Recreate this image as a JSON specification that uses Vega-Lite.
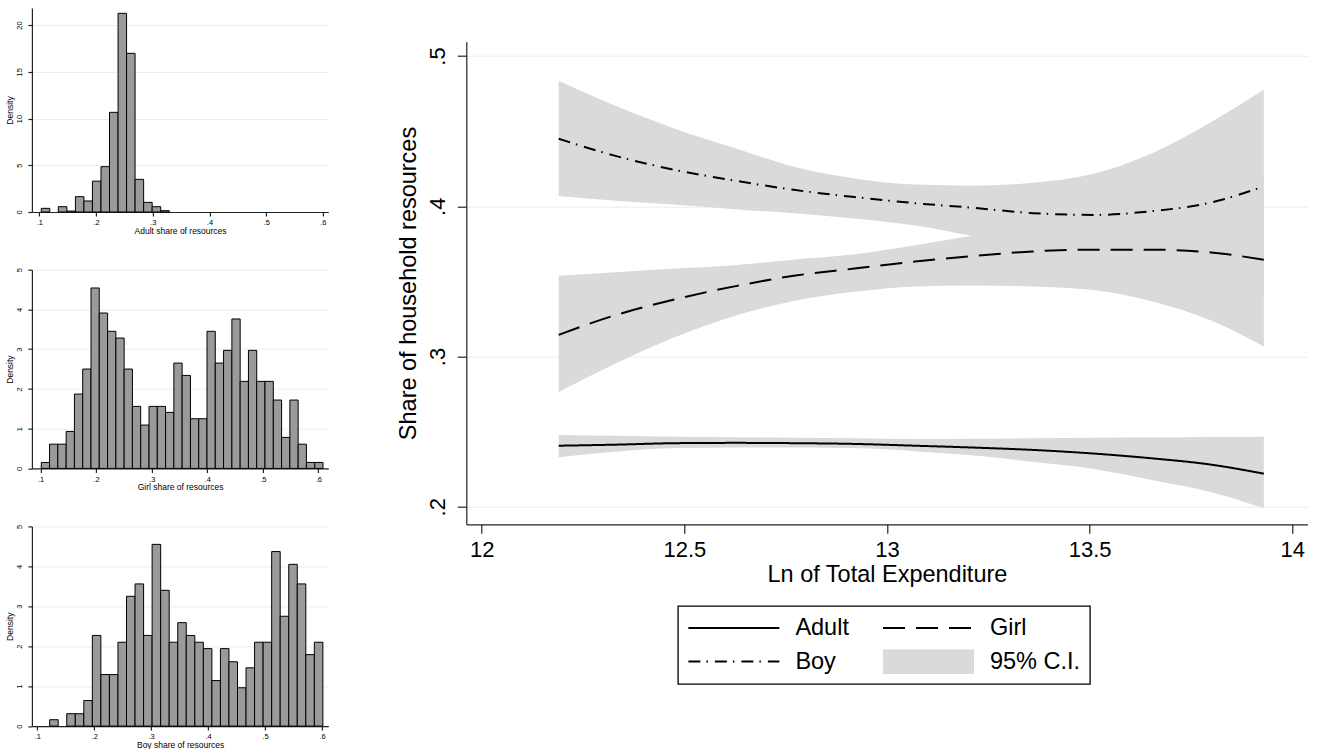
{
  "$schema": "https://vega.github.io/schema/vega-lite/v6.json",
  "padding": {"left": 5.9, "top": 8, "right": 0, "bottom": 0},
  "background": "white",
  "bounds": "flush",
  "spacing": 434.4,
  "config": {
    "font": "Liberation Sans",
    "view": {"stroke": null},
    "axis": {
      "labelColor": "#000",
      "titleColor": "#000",
      "domainColor": "#222",
      "tickColor": "#222",
      "gridColor": "#ececec",
      "gridWidth": 1,
      "labelFlush": false,
      "labelOverlap": false,
      "titleFontWeight": "normal",
      "labelFont": "Liberation Sans",
      "titleFont": "Liberation Sans",
      "domainWidth": 1.2,
      "tickWidth": 1.2
    }
  },
  "datasets": {
    "adult_hist": [
      {"lo": 0.1035, "hi": 0.1185, "density": 0.39},
      {"lo": 0.1336, "hi": 0.1486, "density": 0.57},
      {"lo": 0.1486, "hi": 0.1637, "density": 0.10},
      {"lo": 0.1637, "hi": 0.1787, "density": 1.64},
      {"lo": 0.1787, "hi": 0.1937, "density": 1.18},
      {"lo": 0.1937, "hi": 0.2088, "density": 3.30},
      {"lo": 0.2088, "hi": 0.2238, "density": 4.85},
      {"lo": 0.2238, "hi": 0.2389, "density": 10.66},
      {"lo": 0.2389, "hi": 0.2539, "density": 21.25},
      {"lo": 0.2539, "hi": 0.2689, "density": 16.97},
      {"lo": 0.2689, "hi": 0.2840, "density": 3.49},
      {"lo": 0.2840, "hi": 0.2990, "density": 1.03},
      {"lo": 0.2990, "hi": 0.3141, "density": 0.57},
      {"lo": 0.3141, "hi": 0.3291, "density": 0.14}
    ],
    "girl_hist": [
      {"lo": 0.1012, "hi": 0.1161, "density": 0.15},
      {"lo": 0.1161, "hi": 0.1310, "density": 0.61},
      {"lo": 0.1310, "hi": 0.1460, "density": 0.61},
      {"lo": 0.1460, "hi": 0.1609, "density": 0.93},
      {"lo": 0.1609, "hi": 0.1758, "density": 1.87},
      {"lo": 0.1758, "hi": 0.1907, "density": 2.50},
      {"lo": 0.1907, "hi": 0.2056, "density": 4.54},
      {"lo": 0.2056, "hi": 0.2206, "density": 3.91},
      {"lo": 0.2206, "hi": 0.2355, "density": 3.45},
      {"lo": 0.2355, "hi": 0.2504, "density": 3.28},
      {"lo": 0.2504, "hi": 0.2653, "density": 2.50},
      {"lo": 0.2653, "hi": 0.2802, "density": 1.56},
      {"lo": 0.2802, "hi": 0.2952, "density": 1.09},
      {"lo": 0.2952, "hi": 0.3101, "density": 1.56},
      {"lo": 0.3101, "hi": 0.3250, "density": 1.56},
      {"lo": 0.3250, "hi": 0.3399, "density": 1.41},
      {"lo": 0.3399, "hi": 0.3548, "density": 2.65},
      {"lo": 0.3548, "hi": 0.3698, "density": 2.34},
      {"lo": 0.3698, "hi": 0.3847, "density": 1.25},
      {"lo": 0.3847, "hi": 0.3996, "density": 1.25},
      {"lo": 0.3996, "hi": 0.4145, "density": 3.45},
      {"lo": 0.4145, "hi": 0.4294, "density": 2.65},
      {"lo": 0.4294, "hi": 0.4444, "density": 2.97},
      {"lo": 0.4444, "hi": 0.4593, "density": 3.76},
      {"lo": 0.4593, "hi": 0.4742, "density": 2.19},
      {"lo": 0.4742, "hi": 0.4891, "density": 2.97},
      {"lo": 0.4891, "hi": 0.5040, "density": 2.19},
      {"lo": 0.5040, "hi": 0.5190, "density": 2.19},
      {"lo": 0.5190, "hi": 0.5339, "density": 1.72},
      {"lo": 0.5339, "hi": 0.5488, "density": 0.78},
      {"lo": 0.5488, "hi": 0.5637, "density": 1.72},
      {"lo": 0.5637, "hi": 0.5786, "density": 0.61},
      {"lo": 0.5786, "hi": 0.5936, "density": 0.15},
      {"lo": 0.5936, "hi": 0.6085, "density": 0.15}
    ],
    "boy_hist": [
      {"lo": 0.1217, "hi": 0.1367, "density": 0.16},
      {"lo": 0.1517, "hi": 0.1667, "density": 0.31},
      {"lo": 0.1667, "hi": 0.1817, "density": 0.31},
      {"lo": 0.1817, "hi": 0.1967, "density": 0.64},
      {"lo": 0.1967, "hi": 0.2117, "density": 2.27},
      {"lo": 0.2117, "hi": 0.2267, "density": 1.29},
      {"lo": 0.2267, "hi": 0.2417, "density": 1.29},
      {"lo": 0.2417, "hi": 0.2567, "density": 2.10},
      {"lo": 0.2567, "hi": 0.2717, "density": 3.25},
      {"lo": 0.2717, "hi": 0.2867, "density": 3.56},
      {"lo": 0.2867, "hi": 0.3017, "density": 2.27},
      {"lo": 0.3017, "hi": 0.3167, "density": 4.55},
      {"lo": 0.3167, "hi": 0.3317, "density": 3.40},
      {"lo": 0.3317, "hi": 0.3467, "density": 2.10},
      {"lo": 0.3467, "hi": 0.3617, "density": 2.59},
      {"lo": 0.3617, "hi": 0.3767, "density": 2.27},
      {"lo": 0.3767, "hi": 0.3917, "density": 2.10},
      {"lo": 0.3917, "hi": 0.4067, "density": 1.94},
      {"lo": 0.4067, "hi": 0.4217, "density": 1.14},
      {"lo": 0.4217, "hi": 0.4367, "density": 1.94},
      {"lo": 0.4367, "hi": 0.4517, "density": 1.61},
      {"lo": 0.4517, "hi": 0.4667, "density": 0.96},
      {"lo": 0.4667, "hi": 0.4817, "density": 1.46},
      {"lo": 0.4817, "hi": 0.4967, "density": 2.10},
      {"lo": 0.4967, "hi": 0.5117, "density": 2.10},
      {"lo": 0.5117, "hi": 0.5267, "density": 4.37},
      {"lo": 0.5267, "hi": 0.5417, "density": 2.75},
      {"lo": 0.5417, "hi": 0.5567, "density": 4.05},
      {"lo": 0.5567, "hi": 0.5717, "density": 3.56},
      {"lo": 0.5717, "hi": 0.5867, "density": 1.79},
      {"lo": 0.5867, "hi": 0.6017, "density": 2.10}
    ],
    "curves": [
      {"series": "Adult", "x": 12.19, "fit": 0.2406, "lo": 0.2330, "hi": 0.2478},
      {"series": "Adult", "x": 12.33, "fit": 0.2413, "lo": 0.2366, "hi": 0.2472},
      {"series": "Adult", "x": 12.48, "fit": 0.2423, "lo": 0.2390, "hi": 0.2466},
      {"series": "Adult", "x": 12.63, "fit": 0.2425, "lo": 0.2394, "hi": 0.2462},
      {"series": "Adult", "x": 12.77, "fit": 0.2423, "lo": 0.2394, "hi": 0.2459},
      {"series": "Adult", "x": 12.92, "fit": 0.2418, "lo": 0.2390, "hi": 0.2455},
      {"series": "Adult", "x": 13.07, "fit": 0.2406, "lo": 0.2370, "hi": 0.2450},
      {"series": "Adult", "x": 13.21, "fit": 0.2394, "lo": 0.2342, "hi": 0.2452},
      {"series": "Adult", "x": 13.36, "fit": 0.2378, "lo": 0.2299, "hi": 0.2455},
      {"series": "Adult", "x": 13.51, "fit": 0.2354, "lo": 0.2251, "hi": 0.2459},
      {"series": "Adult", "x": 13.65, "fit": 0.2323, "lo": 0.2180, "hi": 0.2462},
      {"series": "Adult", "x": 13.80, "fit": 0.2280, "lo": 0.2097, "hi": 0.2464},
      {"series": "Adult", "x": 13.93, "fit": 0.2220, "lo": 0.1990, "hi": 0.2466},
      {"series": "Girl", "x": 12.19, "fit": 0.3144, "lo": 0.2763, "hi": 0.3537},
      {"series": "Girl", "x": 12.33, "fit": 0.3275, "lo": 0.2954, "hi": 0.3561},
      {"series": "Girl", "x": 12.48, "fit": 0.3382, "lo": 0.3132, "hi": 0.3585},
      {"series": "Girl", "x": 12.63, "fit": 0.3470, "lo": 0.3275, "hi": 0.3609},
      {"series": "Girl", "x": 12.77, "fit": 0.3537, "lo": 0.3370, "hi": 0.3644},
      {"series": "Girl", "x": 12.92, "fit": 0.3585, "lo": 0.3430, "hi": 0.3680},
      {"series": "Girl", "x": 13.07, "fit": 0.3632, "lo": 0.3466, "hi": 0.3740},
      {"series": "Girl", "x": 13.21, "fit": 0.3668, "lo": 0.3473, "hi": 0.3804},
      {"series": "Girl", "x": 13.36, "fit": 0.3699, "lo": 0.3466, "hi": 0.3870},
      {"series": "Girl", "x": 13.51, "fit": 0.3711, "lo": 0.3442, "hi": 0.3930},
      {"series": "Girl", "x": 13.65, "fit": 0.3711, "lo": 0.3370, "hi": 0.4000},
      {"series": "Girl", "x": 13.80, "fit": 0.3692, "lo": 0.3240, "hi": 0.4100},
      {"series": "Girl", "x": 13.93, "fit": 0.3644, "lo": 0.3066, "hi": 0.4200},
      {"series": "Boy", "x": 12.19, "fit": 0.4449, "lo": 0.4068, "hi": 0.4835},
      {"series": "Boy", "x": 12.33, "fit": 0.4335, "lo": 0.4037, "hi": 0.4668},
      {"series": "Boy", "x": 12.48, "fit": 0.4240, "lo": 0.4009, "hi": 0.4513},
      {"series": "Boy", "x": 12.63, "fit": 0.4168, "lo": 0.3978, "hi": 0.4382},
      {"series": "Boy", "x": 12.77, "fit": 0.4109, "lo": 0.3954, "hi": 0.4263},
      {"series": "Boy", "x": 12.92, "fit": 0.4061, "lo": 0.3918, "hi": 0.4185},
      {"series": "Boy", "x": 13.07, "fit": 0.4020, "lo": 0.3871, "hi": 0.4144},
      {"series": "Boy", "x": 13.21, "fit": 0.3990, "lo": 0.3804, "hi": 0.4137},
      {"series": "Boy", "x": 13.36, "fit": 0.3954, "lo": 0.3750, "hi": 0.4156},
      {"series": "Boy", "x": 13.51, "fit": 0.3942, "lo": 0.3680, "hi": 0.4216},
      {"series": "Boy", "x": 13.65, "fit": 0.3966, "lo": 0.3600, "hi": 0.4347},
      {"series": "Boy", "x": 13.80, "fit": 0.4025, "lo": 0.3500, "hi": 0.4560},
      {"series": "Boy", "x": 13.93, "fit": 0.4132, "lo": 0.3400, "hi": 0.4775}
    ]
  },
  "hconcat": [
    {
      "vconcat": [
        {
          "width": 296.4, "height": 204,
          "data": {"name": "adult_hist"},
          "mark": {"type": "rect", "fill": "#9a9a9a", "stroke": "#000", "strokeWidth": 1},
          "encoding": {
            "x": {"field": "lo", "type": "quantitative", "scale": {"domain": [0.087, 0.6095], "nice": false, "zero": false},
              "axis": {"title": "Adult share of resources", "values": [0.1, 0.2, 0.3, 0.4, 0.5, 0.6], "labelExpr": "substring(format(datum.value, '.1f'), 1)", "tickSize": 4, "labelFontSize": 7.5, "titleFontSize": 8.5, "labelPadding": 2.7, "titlePadding": 0, "grid": false}},
            "x2": {"field": "hi"},
            "y": {"field": "density", "type": "quantitative", "scale": {"domain": [0, 21.82], "nice": false},
              "axis": {"title": "Density", "values": [0, 5, 10, 15, 20], "labelAngle": -90, "labelAlign": "center", "labelBaseline": "bottom", "tickSize": 4, "labelPadding": 4.4, "labelFontSize": 7.5, "titleFontSize": 8.5, "titlePadding": 0.5, "grid": true}},
            "y2": {"datum": 0}
          }
        },
        {
          "width": 296.4, "height": 198.7,
          "data": {"name": "girl_hist"},
          "mark": {"type": "rect", "fill": "#9a9a9a", "stroke": "#000", "strokeWidth": 1},
          "encoding": {
            "x": {"field": "lo", "type": "quantitative", "scale": {"domain": [0.0843, 0.618], "nice": false, "zero": false},
              "axis": {"title": "Girl share of resources", "values": [0.1, 0.2, 0.3, 0.4, 0.5, 0.6], "labelExpr": "substring(format(datum.value, '.1f'), 1)", "tickSize": 4, "labelFontSize": 7.5, "titleFontSize": 8.5, "labelPadding": 2.7, "titlePadding": 0, "grid": false}},
            "x2": {"field": "hi"},
            "y": {"field": "density", "type": "quantitative", "scale": {"domain": [0, 5], "nice": false},
              "axis": {"title": "Density", "values": [0, 1, 2, 3, 4, 5], "labelAngle": -90, "labelAlign": "center", "labelBaseline": "bottom", "tickSize": 4, "labelPadding": 4.4, "labelFontSize": 7.5, "titleFontSize": 8.5, "titlePadding": 0.5, "grid": true}},
            "y2": {"datum": 0}
          }
        },
        {
          "width": 296.4, "height": 199.7,
          "data": {"name": "boy_hist"},
          "mark": {"type": "rect", "fill": "#9a9a9a", "stroke": "#000", "strokeWidth": 1},
          "encoding": {
            "x": {"field": "lo", "type": "quantitative", "scale": {"domain": [0.0905, 0.6112], "nice": false, "zero": false},
              "axis": {"title": "Boy share of resources", "values": [0.1, 0.2, 0.3, 0.4, 0.5, 0.6], "labelExpr": "substring(format(datum.value, '.1f'), 1)", "tickSize": 4, "labelFontSize": 7.5, "titleFontSize": 8.5, "labelPadding": 2.7, "titlePadding": 0, "grid": false}},
            "x2": {"field": "hi"},
            "y": {"field": "density", "type": "quantitative", "scale": {"domain": [0, 5], "nice": false},
              "axis": {"title": "Density", "values": [0, 1, 2, 3, 4, 5], "labelAngle": -90, "labelAlign": "center", "labelBaseline": "bottom", "tickSize": 4, "labelPadding": 4.4, "labelFontSize": 7.5, "titleFontSize": 8.5, "titlePadding": 0.5, "grid": true}},
            "y2": {"datum": 0}
          }
        }
      ],
      "spacing": 57.7,
      "bounds": "flush"
    },
    {
      "vconcat": [
        {
          "width": 841.3, "height": 1,
          "data": {"values": []},
          "mark": {"type": "point", "opacity": 0},
          "encoding": {}
        },
        {
          "width": 841.3, "height": 482.6,
          "data": {"name": "curves"},
          "encoding": {
            "x": {"field": "x", "type": "quantitative", "scale": {"domain": [11.962, 14.038], "nice": false, "zero": false},
              "axis": {"title": "Ln of Total Expenditure", "values": [12, 12.5, 13, 13.5, 14], "format": "~g", "tickSize": 9, "labelPadding": 6.5, "labelFontSize": 22, "titleFontSize": 23.5, "titlePadding": 2, "grid": false}}
          },
          "layer": [
            {
              "mark": {"type": "area", "color": "#dadada", "opacity": 1, "interpolate": "monotone"},
              "encoding": {
                "y": {"field": "lo", "type": "quantitative", "scale": {"domain": [0.1883, 0.5095], "nice": false, "zero": false},
                  "axis": {"title": "Share of household resources", "values": [0.2, 0.3, 0.4, 0.5], "labelExpr": "substring(format(datum.value, '.1f'), 1)", "labelAngle": -90, "labelAlign": "center", "labelBaseline": "bottom", "tickSize": 9, "labelPadding": 8, "labelFontSize": 22, "titleFontSize": 23.5, "titlePadding": 6, "grid": true}},
                "y2": {"field": "hi"},
                "detail": {"field": "series"}
              }
            },
            {
              "mark": {"type": "line", "color": "black", "strokeWidth": 2, "interpolate": "monotone"},
              "encoding": {
                "y": {"field": "fit", "type": "quantitative"},
                "strokeDash": {
                  "field": "series", "type": "nominal",
                  "scale": {"domain": ["Adult", "Boy", "Girl", "95% C.I."], "range": [[1, 0], [12, 6, 1.5, 7], [22, 11], [1, 0]]},
                  "legend": {
                    "orient": "none", "legendX": 646, "legendY": 598,
                    "title": null, "columns": 2,
                    "symbolType": "stroke", "symbolSize": 8281, "symbolStrokeWidth": 2, "symbolStrokeColor": "black",
                    "clipHeight": 24.6,
                    "labelFont": "Liberation Sans", "labelFontSize": 23.5, "labelColor": "black", "labelOffset": 15,
                    "columnPadding": 32.6, "rowPadding": 8.8, "padding": 9.5,
                    "strokeColor": "black", "fillColor": "white",
                    "encode": {
                      "legend": {"update": {"strokeWidth": {"value": 1.3}}},
                      "symbols": {
                        "update": {
                          "shape": {"signal": "datum.value === '95% C.I.' ? 'M-1,-0.27H1V0.27H-1Z' : 'stroke'"},
                          "fill": {"signal": "datum.value === '95% C.I.' ? '#dadada' : 'transparent'"},
                          "stroke": {"signal": "datum.value === '95% C.I.' ? 'transparent' : 'black'"}
                        }
                      }
                    }
                  }
                }
              }
            }
          ]
        }
      ],
      "spacing": 32.7,
      "bounds": "flush"
    }
  ]
}
